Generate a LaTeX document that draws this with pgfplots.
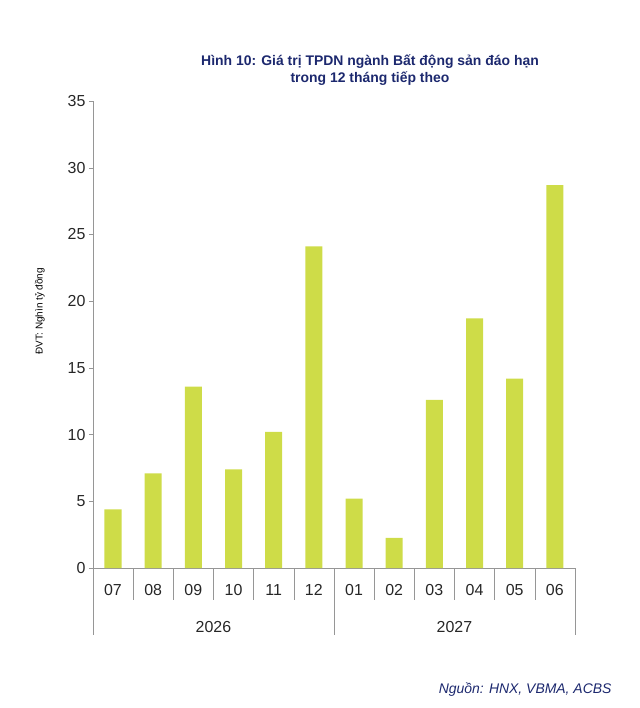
\documentclass[border=0pt]{standalone}
\usepackage{fontspec}
\setmainfont{Liberation Sans}
\usepackage{pgfplots}
\pgfplotsset{compat=1.18}
\definecolor{navy}{RGB}{28,40,110}
\definecolor{bar}{RGB}{206,220,72}
\definecolor{ax}{RGB}{150,150,150}
\begin{document}
\begin{tikzpicture}[x=1bp,y=1bp]
\path[use as bounding box] (-113,-140) rectangle (527,568);
\node[font=\bfseries\fontsize{14}{17}\selectfont,text=navy,align=center] at (257,498) {Hình 10: Giá trị TPDN ngành Bất động sản đáo hạn\\trong 12 tháng tiếp theo};
\node[font=\itshape\fontsize{14}{17}\selectfont,text=navy,anchor=east] at (502,-122) {Nguồn: HNX, VBMA, ACBS};
\begin{axis}[at={(0,0)},anchor=origin,scale only axis,width=482bp,height=467bp,
 xmin=-0.5,xmax=11.5,ymin=0,ymax=35,ytick={0,5,...,35},
 xtick=\empty,clip=false,
 axis x line*=bottom,axis y line*=left,
 axis line style={ax,-},
 y tick style={ax},ytick align=outside,major tick length=4bp,
 y tick label style={font=\fontsize{16}{18}\selectfont,text=black!85},
 /pgf/number format/assume math mode=true,
 ylabel={ĐVT: Nghìn tỷ đồng},ylabel style={font=\fontsize{14}{16}\selectfont,text=navy},
 every axis y label/.style={at={(axis description cs:-0.11,0.55)},rotate=90,anchor=center}]
\addplot[ybar,bar width=17bp,fill=bar,draw=none] coordinates {
(0,4.4)(1,7.1)(2,13.6)(3,7.4)(4,10.2)(5,24.1)(6,5.2)(7,2.25)(8,12.6)(9,18.7)(10,14.2)(11,28.7)};
\pgfplotsinvokeforeach{-0.5,0.5,...,11.5}{\draw[ax] (axis cs:#1,0) -- (axis cs:#1,-2.4);}
\pgfplotsinvokeforeach{-0.5,5.5,11.5}{\draw[ax] (axis cs:#1,0) -- (axis cs:#1,-5.0);}
\pgfplotsinvokeforeach{0,...,11}{\node[font=\fontsize{16}{18}\selectfont,text=black!85] at (axis cs:#1,-1.65) {\ifcase#1 07\or 08\or 09\or 10\or 11\or 12\or 01\or 02\or 03\or 04\or 05\or 06\fi};}
\node[font=\fontsize{16}{18}\selectfont,text=black!85] at (axis cs:2.5,-4.4) {2026};
\node[font=\fontsize{16}{18}\selectfont,text=black!85] at (axis cs:8.5,-4.4) {2027};
\end{axis}
\end{tikzpicture}
\end{document}
